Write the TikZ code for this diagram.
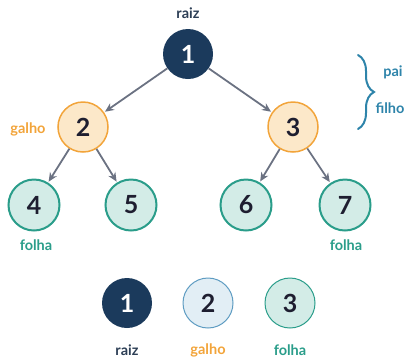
\documentclass[tikz,border=0pt]{standalone}
\usepackage{fontspec}
\setmainfont{Lato}
\usetikzlibrary{arrows.meta,decorations.pathreplacing}
\definecolor{navy}{HTML}{1B3A5C}
\definecolor{ink}{HTML}{1E1E30}
\definecolor{orangeline}{HTML}{F2A43A}
\definecolor{orangefill}{HTML}{FCE8C9}
\definecolor{tealline}{HTML}{2A9D8A}
\definecolor{tealfill}{HTML}{D3ECE7}
\definecolor{blueline}{HTML}{5E9CC2}
\definecolor{bluefill}{HTML}{E2EEF5}
\definecolor{edgegray}{HTML}{6B7282}
\definecolor{bracecol}{HTML}{2E84AA}
\definecolor{rootlabel}{HTML}{2C3E55}
\tikzset{
  every node/.style={font=\bfseries},
  num/.style={circle, minimum size=50pt, inner sep=0pt, font=\bfseries\fontsize{25}{25}\selectfont},
  rootnode/.style={num, fill=navy, text=white},
  branch/.style={num, fill=orangefill, draw=orangeline, line width=1.5pt, text=ink},
  leaf/.style={num, fill=tealfill, draw=tealline, line width=2pt, text=ink, minimum size=51pt},
  legbranch/.style={num, fill=bluefill, draw=blueline, line width=1pt, text=ink},
  legleaf/.style={num, fill=tealfill, draw=tealline, line width=1pt, text=ink},
  link/.style={draw=edgegray, line width=1.8pt, -{Stealth[length=9pt,width=8pt]}, shorten >=1pt},
  lbl/.style={font=\bfseries\fontsize{14.5}{14.5}\selectfont}
}
\begin{document}
\begin{tikzpicture}[x=1pt,y=-1pt]
\useasboundingbox (0,0) rectangle (409,360);

% tree
\node[rootnode] (n1) at (188,54) {1};
\node[branch] (n2) at (83,127) {2};
\node[branch] (n3) at (293,127) {3};
\node[leaf] (n4) at (34,205) {4};
\node[leaf] (n5) at (131,205) {5};
\node[leaf] (n6) at (246,205) {6};
\node[leaf] (n7) at (345,205) {7};

\draw[link] (n1) -- (n2);
\draw[link] (n1) -- (n3);
\draw[link] (n2) -- (n4);
\draw[link] (n2) -- (n5);
\draw[link] (n3) -- (n6);
\draw[link] (n3) -- (n7);

% role labels
\node[lbl, text=rootlabel] (lraiz) at (188,13) {raiz};
\node[lbl, text=orangeline] (lgalho) at (28,129) {galho};
\node[lbl, text=tealline] (lfolha1) at (36,245) {folha};
\node[lbl, text=tealline] (lfolha2) at (346,245) {folha};

% parent / child brace
\coordinate (btop) at (358,55);
\coordinate (bbot) at (358,129);
\draw[bracecol, line width=2pt, line cap=round,
  decoration={brace, amplitude=16pt}, decorate] (btop) -- (bbot);
\node[lbl, text=bracecol] (lpai) at (393,72) {pai};
\node[lbl, text=bracecol] (lfilho) at (390,108) {filho};

% legend
\node[rootnode] (k1) at (127,303) {1};
\node[legbranch] (k2) at (208,303) {2};
\node[legleaf] (k3) at (290,303) {3};
\node[lbl, text=rootlabel] (kraiz) at (127,350) {raiz};
\node[lbl, text=orangeline] (kgalho) at (208,350) {galho};
\node[lbl, text=tealline] (kfolha) at (290,350) {folha};
\end{tikzpicture}
\end{document}
